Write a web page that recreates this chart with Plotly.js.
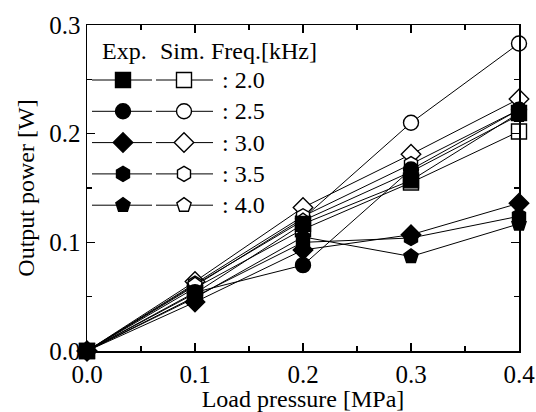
<!DOCTYPE html>
<html>
<head>
<meta charset="utf-8">
<script src="https://cdn.plot.ly/plotly-3.0.1.min.js"></script>
<style>html,body{margin:0;padding:0;background:#fff;}#chart{width:536px;height:412px;}</style>
</head>
<body>
<div id="chart"></div>
<script>
// ---- data ----
const loadPressure = [0.0, 0.1, 0.2, 0.3, 0.4];
const freqLabels = ['2.0', '2.5', '3.0', '3.5', '4.0'];
const symbols = ['square', 'circle', 'diamond', 'hexagon', 'pentagon'];

const exp20 = [0, 0.053, 0.117, 0.157, 0.219];
const exp25 = [0, 0.054, 0.079, 0.167, 0.222];
const exp30 = [0, 0.045, 0.093, 0.107, 0.136];
const exp35 = [0, 0.050, 0.100, 0.104, 0.124];
const exp40 = [0, 0.049, 0.105, 0.087, 0.117];

const sim20 = [0, 0.058, 0.112, 0.155, 0.202];
const sim25 = [0, 0.060, 0.122, 0.210, 0.283];
const sim30 = [0, 0.064, 0.132, 0.181, 0.232];
const sim35 = [0, 0.062, 0.124, 0.172, 0.222];
const sim40 = [0, 0.061, 0.120, 0.165, 0.217];

const expSeries = [exp20, exp25, exp30, exp35, exp40];
const simSeries = [sim20, sim25, sim30, sim35, sim40];

// ---- styling / layout config ----
const FONT = 'Liberation Serif, Times New Roman, serif';
const MS = 15;
const W = 536, H = 412;
const M = {l: 87, r: 17, t: 25, b: 61};
// legend box geometry in pixel coords (overlay axes map pixels directly)
const LEG = {
  headerY: 51, headerX: [100, 158, 209],
  rowY0: 80, rowDY: 31.3,
  expLine: [92, 152], expMark: 123,
  simLine: [156, 213], simMark: 184,
  textX: 220
};

function markerStyle(sym, filled) {
  return {
    symbol: sym, size: MS,
    color: filled ? '#000' : '#fff',
    line: {color: '#000', width: 1.4}
  };
}

const traces = [];
// simulation (open) first, experiment (filled) on top
simSeries.forEach((s, i) => {
  traces.push({
    x: loadPressure, y: s, mode: 'lines+markers', type: 'scatter',
    line: {color: '#000', width: 1}, marker: markerStyle(symbols[i], false),
    cliponaxis: false, showlegend: false, hoverinfo: 'skip'
  });
});
expSeries.forEach((s, i) => {
  traces.push({
    x: loadPressure, y: s, mode: 'lines+markers', type: 'scatter',
    line: {color: '#000', width: 1}, marker: markerStyle(symbols[i], true),
    cliponaxis: false, showlegend: false, hoverinfo: 'skip'
  });
});

// legend samples on overlay pixel axes
const annotations = [];
const hdr = ['Exp.', 'Sim.', 'Freq.[kHz]'];
hdr.forEach((t, k) => annotations.push({
  xref: 'x2', yref: 'y2', x: LEG.headerX[k], y: LEG.headerY, text: t,
  showarrow: false, xanchor: 'left', yanchor: 'middle',
  font: {family: FONT, size: 24, color: '#000'}
}));
freqLabels.forEach((f, i) => {
  const yy = LEG.rowY0 + i * LEG.rowDY;
  traces.push({
    x: [LEG.expLine[0], LEG.expMark, LEG.expLine[1]], y: [yy, yy, yy],
    xaxis: 'x2', yaxis: 'y2', mode: 'lines', type: 'scatter',
    line: {color: '#000', width: 1}, showlegend: false, hoverinfo: 'skip'
  });
  traces.push({
    x: [LEG.expMark], y: [yy], xaxis: 'x2', yaxis: 'y2', mode: 'markers', type: 'scatter',
    marker: markerStyle(symbols[i], true), showlegend: false, hoverinfo: 'skip'
  });
  traces.push({
    x: [LEG.simLine[0], LEG.simMark, LEG.simLine[1]], y: [yy, yy, yy],
    xaxis: 'x2', yaxis: 'y2', mode: 'lines', type: 'scatter',
    line: {color: '#000', width: 1}, showlegend: false, hoverinfo: 'skip'
  });
  traces.push({
    x: [LEG.simMark], y: [yy], xaxis: 'x2', yaxis: 'y2', mode: 'markers', type: 'scatter',
    marker: markerStyle(symbols[i], false), showlegend: false, hoverinfo: 'skip'
  });
  annotations.push({
    xref: 'x2', yref: 'y2', x: LEG.textX, y: yy, text: ': ' + f,
    showarrow: false, xanchor: 'left', yanchor: 'middle',
    font: {family: FONT, size: 24, color: '#000'}
  });
});

const axisCommon = {
  showgrid: false, zeroline: false, showline: true, linecolor: '#000', linewidth: 1.5,
  mirror: 'ticks', ticks: 'inside', ticklen: 8, tickwidth: 1.2, tickcolor: '#000',
  tickfont: {family: FONT, size: 25, color: '#000'},
  minor: {ticks: 'inside', ticklen: 5, tickwidth: 1.2, tickcolor: '#000', dtick: 0.05},
  fixedrange: true
};

const layout = {
  width: W, height: H,
  margin: M,
  paper_bgcolor: '#fff', plot_bgcolor: '#fff',
  font: {family: FONT, size: 24, color: '#000'},
  xaxis: Object.assign({}, axisCommon, {
    range: [0, 0.4], dtick: 0.1, tick0: 0, tickformat: '.1f',
    title: {text: 'Load pressure [MPa]', font: {family: FONT, size: 24}, standoff: 2}
  }),
  yaxis: Object.assign({}, axisCommon, {
    range: [0, 0.3], dtick: 0.1, tick0: 0, tickformat: '.1f',
    title: {text: 'Output power [W]', font: {family: FONT, size: 24}, standoff: 8}
  }),
  xaxis2: {overlaying: 'x', range: [M.l, W - M.r], visible: false, fixedrange: true},
  yaxis2: {overlaying: 'y', range: [H - M.b, M.t], visible: false, fixedrange: true},
  annotations: annotations,
  showlegend: false
};

Plotly.newPlot('chart', traces, layout, {displayModeBar: false, staticPlot: true});
</script>
</body>
</html>
